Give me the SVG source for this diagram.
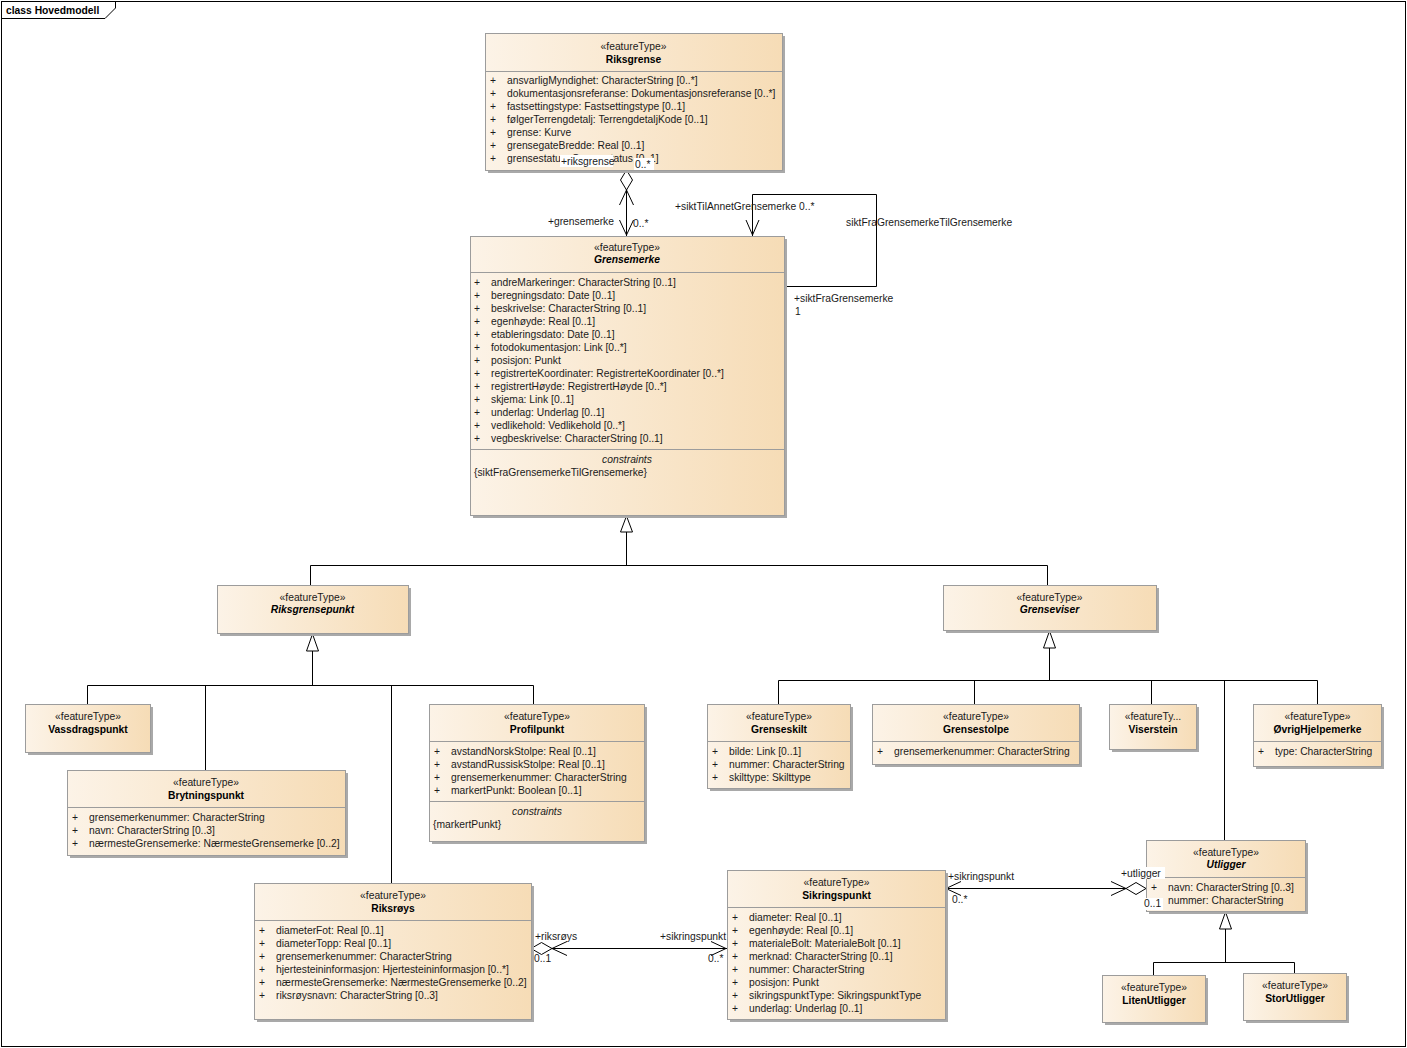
<svg xmlns="http://www.w3.org/2000/svg" width="1407" height="1048" viewBox="0 0 1407 1048">
<defs>
<linearGradient id="g" x1="0" y1="0" x2="1" y2="0">
<stop offset="0" stop-color="#fcf3e7"/>
<stop offset="1" stop-color="#f6dcb6"/>
</linearGradient>
<style>
.sh{fill:#a9a9a9}
.box{fill:url(#g);stroke:#9c9c9c;stroke-width:1}
.div{stroke:#9c9c9c;stroke-width:1}
text{font-family:"Liberation Sans",Arial,sans-serif;font-size:10.3px;fill:#1a1a1a}
.c{text-anchor:middle}
.b{font-weight:bold;fill:#000}
.i{font-style:italic}
.ln{stroke:#000;stroke-width:1;fill:none}
.tri{fill:#fff;stroke:#000;stroke-width:1}
.dia{fill:#fff;stroke:#000;stroke-width:1}
.wb{fill:#fff}
</style>
</defs>
<rect x="0" y="0" width="1407" height="1048" fill="#fff"/>
<rect x="1.5" y="1.5" width="1404" height="1045" fill="none" stroke="#000"/>
<path d="M1.5,18.5 H105 L115.5,8 V1.5" fill="none" stroke="#000"/>
<text x="6" y="14" class="b">class Hovedmodell</text>

<g id="connectors">
<!-- Riksgrense - Grensemerke -->
<line class="ln" x1="626.5" y1="189" x2="626.5" y2="236"/>
<path class="dia" d="M626.5,170 L632.5,180 L626.5,190 L620.5,180 Z"/>
<path class="ln" d="M619.5,205 L626.5,190 L633.5,205"/>
<path class="ln" d="M619.5,220 L626.5,235 L633.5,220"/>
<!-- self association -->
<path class="ln" d="M784,286.5 H876.5 V194.5 H752.5 V236"/>
<path class="ln" d="M746,220 L752.5,235 L759,220"/>
<!-- Generalization Grensemerke -->
<path class="ln" d="M626.5,532 V565.5 M310.5,565.5 H1047.5 M310.5,565.5 V585 M1047.5,565.5 V585"/>
<path class="tri" d="M626.5,516 L632.5,532 L620.5,532 Z"/>
<!-- Riksgrensepunkt generalization -->
<path class="ln" d="M312.5,651 V685.5 M87.5,685.5 H533.5 M87.5,685.5 V704 M205.5,685.5 V770 M391.5,685.5 V883 M533.5,685.5 V704"/>
<path class="tri" d="M312.5,634 L318.5,651 L306.5,651 Z"/>
<!-- Grenseviser generalization -->
<path class="ln" d="M1049.5,648 V680.5 M778.5,680.5 H1317.5 M778.5,680.5 V704 M974.5,680.5 V704 M1151.5,680.5 V704 M1224.5,680.5 V840 M1317.5,680.5 V704"/>
<path class="tri" d="M1049.5,631 L1055.5,648 L1043.5,648 Z"/>
<!-- Utligger generalization -->
<path class="ln" d="M1225.5,929 V962.5 M1153.5,962.5 H1294.5 M1153.5,962.5 V975 M1294.5,962.5 V973"/>
<path class="tri" d="M1225.5,912 L1231.5,929 L1219.5,929 Z"/>
<!-- Riksrøys - Sikringspunkt -->
<line class="ln" x1="552" y1="948.5" x2="727" y2="948.5"/>
<path class="dia" d="M531,948.5 L541.5,942.5 L552,948.5 L541.5,954.5 Z"/>
<path class="ln" d="M567,941.5 L552,948.5 L567,955.5"/>
<path class="ln" d="M711,941.5 L726,948.5 L711,955.5"/>
<!-- Sikringspunkt - Utligger -->
<line class="ln" x1="946" y1="888.5" x2="1126" y2="888.5"/>
<path class="ln" d="M961,881.5 L946,888.5 L961,895.5"/>
<path class="dia" d="M1146,888.5 L1136,882.5 L1126,888.5 L1136,894.5 Z"/>
<path class="ln" d="M1111,881.5 L1126,888.5 L1111,895.5"/>
</g>

<g id="Riksgrense">
<rect class="sh" x="488" y="36" width="297" height="137"/>
<rect class="box" x="485.5" y="33.5" width="297" height="137"/>
<line class="div" x1="485.5" y1="71.5" x2="782.5" y2="71.5"/>
<text x="633.5" y="49.5" class="c">«featureType»</text>
<text x="633.5" y="62.5" class="c b">Riksgrense</text>
<text x="490" y="83.5">+</text><text x="507" y="83.5">ansvarligMyndighet: CharacterString [0..*]</text>
<text x="490" y="96.5">+</text><text x="507" y="96.5">dokumentasjonsreferanse: Dokumentasjonsreferanse [0..*]</text>
<text x="490" y="109.5">+</text><text x="507" y="109.5">fastsettingstype: Fastsettingstype [0..1]</text>
<text x="490" y="122.5">+</text><text x="507" y="122.5">følgerTerrengdetalj: TerrengdetaljKode [0..1]</text>
<text x="490" y="135.5">+</text><text x="507" y="135.5">grense: Kurve</text>
<text x="490" y="148.5">+</text><text x="507" y="148.5">grensegateBredde: Real [0..1]</text>
<text x="490" y="161.5">+</text><text x="507" y="161.5">grensestatus: Grensestatus [0..1]</text>
</g>

<g id="Grensemerke">
<rect class="sh" x="473" y="239" width="314" height="279"/>
<rect class="box" x="470.5" y="236.5" width="314" height="279"/>
<line class="div" x1="470.5" y1="272.5" x2="784.5" y2="272.5"/>
<line class="div" x1="470.5" y1="449.5" x2="784.5" y2="449.5"/>
<text x="627" y="250.5" class="c">«featureType»</text>
<text x="627" y="262.5" class="c b i">Grensemerke</text>
<text x="474" y="285.5">+</text><text x="491" y="285.5">andreMarkeringer: CharacterString [0..1]</text>
<text x="474" y="298.5">+</text><text x="491" y="298.5">beregningsdato: Date [0..1]</text>
<text x="474" y="311.5">+</text><text x="491" y="311.5">beskrivelse: CharacterString [0..1]</text>
<text x="474" y="324.5">+</text><text x="491" y="324.5">egenhøyde: Real [0..1]</text>
<text x="474" y="337.5">+</text><text x="491" y="337.5">etableringsdato: Date [0..1]</text>
<text x="474" y="350.5">+</text><text x="491" y="350.5">fotodokumentasjon: Link [0..*]</text>
<text x="474" y="363.5">+</text><text x="491" y="363.5">posisjon: Punkt</text>
<text x="474" y="376.5">+</text><text x="491" y="376.5">registrerteKoordinater: RegistrerteKoordinater [0..*]</text>
<text x="474" y="389.5">+</text><text x="491" y="389.5">registrertHøyde: RegistrertHøyde [0..*]</text>
<text x="474" y="402.5">+</text><text x="491" y="402.5">skjema: Link [0..1]</text>
<text x="474" y="415.5">+</text><text x="491" y="415.5">underlag: Underlag [0..1]</text>
<text x="474" y="428.5">+</text><text x="491" y="428.5">vedlikehold: Vedlikehold [0..*]</text>
<text x="474" y="441.5">+</text><text x="491" y="441.5">vegbeskrivelse: CharacterString [0..1]</text>
<text x="627" y="462.5" class="c i">constraints</text>
<text x="474" y="475.5">{siktFraGrensemerkeTilGrensemerke}</text>
</g>

<g id="Riksgrensepunkt">
<rect class="sh" x="220" y="588" width="191" height="48"/>
<rect class="box" x="217.5" y="585.5" width="191" height="48"/>
<text x="312.5" y="600.5" class="c">«featureType»</text>
<text x="312.5" y="612.5" class="c b i">Riksgrensepunkt</text>
</g>

<g id="Grenseviser">
<rect class="sh" x="946" y="588" width="213" height="45"/>
<rect class="box" x="943.5" y="585.5" width="213" height="45"/>
<text x="1049.5" y="600.5" class="c">«featureType»</text>
<text x="1049.5" y="612.5" class="c b i">Grenseviser</text>
</g>

<g id="Vassdragspunkt">
<rect class="sh" x="28" y="707" width="125" height="48"/>
<rect class="box" x="25.5" y="704.5" width="125" height="48"/>
<text x="88" y="720" class="c">«featureType»</text>
<text x="88" y="733" class="c b">Vassdragspunkt</text>
</g>

<g id="Brytningspunkt">
<rect class="sh" x="70" y="773" width="278" height="85"/>
<rect class="box" x="67.5" y="770.5" width="278" height="85"/>
<line class="div" x1="67.5" y1="807.5" x2="345.5" y2="807.5"/>
<text x="206" y="786" class="c">«featureType»</text>
<text x="206" y="799" class="c b">Brytningspunkt</text>
<text x="72" y="820.5">+</text><text x="89" y="820.5">grensemerkenummer: CharacterString</text>
<text x="72" y="833.5">+</text><text x="89" y="833.5">navn: CharacterString [0..3]</text>
<text x="72" y="846.5">+</text><text x="89" y="846.5">nærmesteGrensemerke: NærmesteGrensemerke [0..2]</text>
</g>

<g id="Profilpunkt">
<rect class="sh" x="432" y="707" width="215" height="137"/>
<rect class="box" x="429.5" y="704.5" width="215" height="137"/>
<line class="div" x1="429.5" y1="741.5" x2="644.5" y2="741.5"/>
<line class="div" x1="429.5" y1="801.5" x2="644.5" y2="801.5"/>
<text x="537" y="720" class="c">«featureType»</text>
<text x="537" y="733" class="c b">Profilpunkt</text>
<text x="434" y="754.5">+</text><text x="451" y="754.5">avstandNorskStolpe: Real [0..1]</text>
<text x="434" y="767.5">+</text><text x="451" y="767.5">avstandRussiskStolpe: Real [0..1]</text>
<text x="434" y="780.5">+</text><text x="451" y="780.5">grensemerkenummer: CharacterString</text>
<text x="434" y="793.5">+</text><text x="451" y="793.5">markertPunkt: Boolean [0..1]</text>
<text x="537" y="814.5" class="c i">constraints</text>
<text x="433" y="827.5">{markertPunkt}</text>
</g>

<g id="Grenseskilt">
<rect class="sh" x="710" y="707" width="143" height="84"/>
<rect class="box" x="707.5" y="704.5" width="143" height="84"/>
<line class="div" x1="707.5" y1="741.5" x2="850.5" y2="741.5"/>
<text x="779" y="720" class="c">«featureType»</text>
<text x="779" y="733" class="c b">Grenseskilt</text>
<text x="712" y="754.5">+</text><text x="729" y="754.5">bilde: Link [0..1]</text>
<text x="712" y="767.5">+</text><text x="729" y="767.5">nummer: CharacterString</text>
<text x="712" y="780.5">+</text><text x="729" y="780.5">skilttype: Skilttype</text>
</g>

<g id="Grensestolpe">
<rect class="sh" x="875" y="707" width="207" height="60"/>
<rect class="box" x="872.5" y="704.5" width="207" height="60"/>
<line class="div" x1="872.5" y1="741.5" x2="1079.5" y2="741.5"/>
<text x="976" y="720" class="c">«featureType»</text>
<text x="976" y="733" class="c b">Grensestolpe</text>
<text x="877" y="754.5">+</text><text x="894" y="754.5">grensemerkenummer: CharacterString</text>
</g>

<g id="Viserstein">
<rect class="sh" x="1112" y="707" width="87" height="45"/>
<rect class="box" x="1109.5" y="704.5" width="87" height="45"/>
<text x="1153" y="720" class="c">«featureTy...</text>
<text x="1153" y="733" class="c b">Viserstein</text>
</g>

<g id="OvrigHjelpemerke">
<rect class="sh" x="1256" y="707" width="128" height="62"/>
<rect class="box" x="1253.5" y="704.5" width="128" height="62"/>
<line class="div" x1="1253.5" y1="741.5" x2="1381.5" y2="741.5"/>
<text x="1317.5" y="720" class="c">«featureType»</text>
<text x="1317.5" y="733" class="c b">ØvrigHjelpemerke</text>
<text x="1258" y="754.5">+</text><text x="1275" y="754.5">type: CharacterString</text>
</g>

<g id="Utligger">
<rect class="sh" x="1149" y="843" width="159" height="71"/>
<rect class="box" x="1146.5" y="840.5" width="159" height="71"/>
<line class="div" x1="1146.5" y1="877.5" x2="1305.5" y2="877.5"/>
<text x="1226" y="856" class="c">«featureType»</text>
<text x="1226" y="868" class="c b i">Utligger</text>
<text x="1151" y="890.5">+</text><text x="1168" y="890.5">navn: CharacterString [0..3]</text>
<text x="1168" y="903.5">nummer: CharacterString</text>
</g>

<g id="LitenUtligger">
<rect class="sh" x="1105" y="978" width="103" height="47"/>
<rect class="box" x="1102.5" y="975.5" width="103" height="47"/>
<text x="1154" y="991" class="c">«featureType»</text>
<text x="1154" y="1004" class="c b">LitenUtligger</text>
</g>

<g id="StorUtligger">
<rect class="sh" x="1246" y="976" width="103" height="47"/>
<rect class="box" x="1243.5" y="973.5" width="103" height="47"/>
<text x="1295" y="989" class="c">«featureType»</text>
<text x="1295" y="1002" class="c b">StorUtligger</text>
</g>

<g id="Riksroys">
<rect class="sh" x="257" y="886" width="277" height="136"/>
<rect class="box" x="254.5" y="883.5" width="277" height="136"/>
<line class="div" x1="254.5" y1="920.5" x2="531.5" y2="920.5"/>
<text x="393" y="899" class="c">«featureType»</text>
<text x="393" y="912" class="c b">Riksrøys</text>
<text x="259" y="933.5">+</text><text x="276" y="933.5">diameterFot: Real [0..1]</text>
<text x="259" y="946.5">+</text><text x="276" y="946.5">diameterTopp: Real [0..1]</text>
<text x="259" y="959.5">+</text><text x="276" y="959.5">grensemerkenummer: CharacterString</text>
<text x="259" y="972.5">+</text><text x="276" y="972.5">hjertesteininformasjon: Hjertesteininformasjon [0..*]</text>
<text x="259" y="985.5">+</text><text x="276" y="985.5">nærmesteGrensemerke: NærmesteGrensemerke [0..2]</text>
<text x="259" y="998.5">+</text><text x="276" y="998.5">riksrøysnavn: CharacterString [0..3]</text>
</g>

<g id="Sikringspunkt">
<rect class="sh" x="730" y="873" width="218" height="149"/>
<rect class="box" x="727.5" y="870.5" width="218" height="149"/>
<line class="div" x1="727.5" y1="907.5" x2="945.5" y2="907.5"/>
<text x="836.5" y="886" class="c">«featureType»</text>
<text x="836.5" y="899" class="c b">Sikringspunkt</text>
<text x="732" y="920.5">+</text><text x="749" y="920.5">diameter: Real [0..1]</text>
<text x="732" y="933.5">+</text><text x="749" y="933.5">egenhøyde: Real [0..1]</text>
<text x="732" y="946.5">+</text><text x="749" y="946.5">materialeBolt: MaterialeBolt [0..1]</text>
<text x="732" y="959.5">+</text><text x="749" y="959.5">merknad: CharacterString [0..1]</text>
<text x="732" y="972.5">+</text><text x="749" y="972.5">nummer: CharacterString</text>
<text x="732" y="985.5">+</text><text x="749" y="985.5">posisjon: Punkt</text>
<text x="732" y="998.5">+</text><text x="749" y="998.5">sikringspunktType: SikringspunktType</text>
<text x="732" y="1011.5">+</text><text x="749" y="1011.5">underlag: Underlag [0..1]</text>
</g>

<g id="labels">
<rect class="wb" x="560" y="155" width="53" height="12"/>
<text x="561" y="165">+riksgrense</text>
<rect class="wb" x="634" y="158" width="20" height="12"/>
<text x="635" y="168">0..*</text>
<text x="614" y="225" text-anchor="end">+grensemerke</text>
<text x="633" y="227">0..*</text>
<text x="675" y="210">+siktTilAnnetGrensemerke 0..*</text>
<text x="846" y="226">siktFraGrensemerkeTilGrensemerke</text>
<text x="794" y="302">+siktFraGrensemerke</text>
<text x="795" y="315">1</text>
<text x="535" y="940">+riksrøys</text>
<text x="534" y="962">0..1</text>
<text x="660" y="940">+sikringspunkt</text>
<text x="708" y="962">0..*</text>
<text x="948" y="880">+sikringspunkt</text>
<text x="952" y="903">0..*</text>
<rect class="wb" x="1120" y="867" width="45" height="12"/>
<text x="1121" y="877">+utligger</text>
<rect class="wb" x="1143" y="898" width="20" height="12"/>
<text x="1144" y="907">0..1</text>
</g>
</svg>
